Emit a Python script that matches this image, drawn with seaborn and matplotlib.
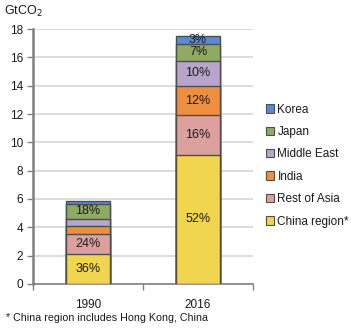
import matplotlib
matplotlib.use("Agg")
import matplotlib.pyplot as plt
from matplotlib.patches import Patch
import numpy as np
import pandas as pd
import seaborn as sns

years = ["1990", "2016"]
regions = ["China region*", "Rest of Asia", "India", "Middle East", "Japan", "Korea"]
# emissions in GtCO2, bottom segment first
china = [2.10, 9.10]
rest_of_asia = [1.40, 2.80]
india = [0.58, 2.10]
middle_east = [0.52, 1.75]
japan = [1.05, 1.20]
korea = [0.20, 0.55]
# which segments carry a share label
show_label = {
    "1990": [True, True, False, False, True, False],
    "2016": [True, True, True, True, True, True],
}
colors = ["#F2D54E", "#DCA19F", "#EE8E3F", "#B6A6CC", "#8FAA62", "#5B8AD0"]

sns.set_theme(style="white")
plt.rcParams["font.family"] = ["Liberation Sans", "DejaVu Sans"]

series = [china, rest_of_asia, india, middle_east, japan, korea]
vals = np.array(series)            # shape (regions, years)
cum = np.cumsum(vals, axis=0)
totals = cum[-1]

fig = plt.figure(figsize=(3.51, 3.34), dpi=100)
ax = fig.add_axes([0.094, 0.150, 0.627, 0.763])

# stacked bars: draw cumulative heights from the top segment down
for i in range(len(regions) - 1, -1, -1):
    df = pd.DataFrame({"year": years, "value": cum[i]})
    sns.barplot(data=df, x="year", y="value", color=colors[i], width=0.4,
                edgecolor="#4d4d4d", linewidth=1.0, saturation=1, ax=ax,
                zorder=3)

for j, yr in enumerate(years):
    for i in range(len(regions)):
        if not show_label[yr][i]:
            continue
        share = vals[i, j] / totals[j] * 100
        mid = cum[i, j] - vals[i, j] / 2
        ax.text(j, mid, f"{share:.0f}%", ha="center", va="center",
                fontsize=9, color="#1a1a1a", zorder=5)

ax.set_ylim(0, 18)
ax.set_xlim(-0.5, 1.5)
ax.set_yticks(range(0, 19, 2))
ax.set_xlabel("")
ax.set_ylabel("")
ax.yaxis.grid(True, color="#D9D9D9", linewidth=1.3, zorder=0)
ax.set_axisbelow(True)
for s in ["top", "right"]:
    ax.spines[s].set_visible(False)
ax.spines["left"].set_color("#808080")
ax.spines["left"].set_linewidth(1.8)
ax.spines["bottom"].set_color("#808080")
ax.spines["bottom"].set_linewidth(1.2)
ax.tick_params(axis="y", which="major", left=True, length=4, width=1,
               color="#808080", labelsize=8.5, labelcolor="#1a1a1a", pad=3)
ax.tick_params(axis="x", which="major", bottom=False, labelsize=8.5,
               labelcolor="#1a1a1a", pad=5)
ax.set_xticks([-0.5, 0.5, 1.5], minor=True)
ax.tick_params(axis="x", which="minor", bottom=True, length=4, width=1,
               color="#808080")

handles = [Patch(facecolor=colors[i], edgecolor="#4d4d4d", linewidth=0.8,
                 label=regions[i]) for i in range(len(regions) - 1, -1, -1)]
fig.legend(handles=handles, loc="upper left", bbox_to_anchor=(0.745, 0.704),
           frameon=False, fontsize=8.5, handlelength=0.7, handleheight=0.7,
           handletextpad=0.25, labelspacing=0.88, borderaxespad=0,
           labelcolor="#1a1a1a")

fig.text(0.012, 0.965, "GtCO$_2$", fontsize=9, color="#1a1a1a",
         ha="left", va="center")
fig.text(0.017, 0.047, "* China region includes Hong Kong, China",
         fontsize=7.7, color="#1a1a1a", ha="left", va="center")

fig.savefig("out.png", dpi=100)
